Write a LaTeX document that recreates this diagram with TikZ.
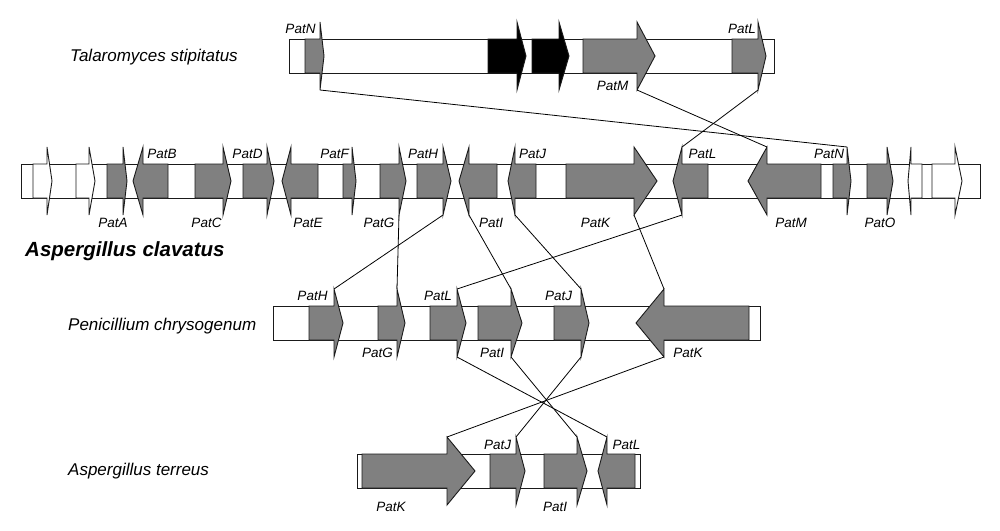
\documentclass[tikz,border=0pt]{standalone}
\usepackage{fontspec}
\setmainfont{Liberation Sans}
\definecolor{genegray}{HTML}{808080}
\definecolor{edge}{HTML}{1A1A1A}
\tikzset{
  gene/.style={draw=edge, line width=0.9pt, line join=miter},
  barbox/.style={draw=edge, line width=0.9pt, fill=white},
  link/.style={draw=black, line width=0.8pt},
  lab/.style={anchor=base, inner sep=0pt, font=\fontsize{13.5}{15}\selectfont\itshape},
  species/.style={anchor=base west, inner sep=0pt, font=\fontsize{17}{19}\selectfont\itshape},
  speciesbold/.style={anchor=base west, inner sep=0pt, font=\fontsize{20.5}{23}\selectfont\bfseries\itshape}
}
% right-pointing gene: name, body start, head base, tip, centre y, fill
\newcommand\geneR[6]{%
  \filldraw[gene,fill=#6] (#2,#5-17) -- (#3,#5-17) -- (#3,#5-34) -- (#4,#5) -- (#3,#5+34) -- (#3,#5+17) -- (#2,#5+17) -- cycle;
  \coordinate (#1t) at (#3,#5-34);
  \coordinate (#1b) at (#3,#5+34);}
% left-pointing gene: name, tip, head base, body end, centre y, fill
\newcommand\geneL[6]{%
  \filldraw[gene,fill=#6] (#4,#5-17) -- (#3,#5-17) -- (#3,#5-34) -- (#2,#5) -- (#3,#5+34) -- (#3,#5+17) -- (#4,#5+17) -- cycle;
  \coordinate (#1t) at (#3,#5-34);
  \coordinate (#1b) at (#3,#5+34);}
\begin{document}
\begin{tikzpicture}[x=1pt,y=-1pt]
\useasboundingbox (0,0) rectangle (1000,530);

% ---------- Talaromyces stipitatus ----------
\node[species] (spT) at (70,61) {Talaromyces stipitatus};
\draw[barbox] (289,39) rectangle (774,73);
\geneR{TN}{305}{320}{324}{56}{genegray}
\geneR{TX1}{488}{517}{526}{56}{black}
\geneR{TX2}{532}{559}{569}{56}{black}
\geneR{TM}{583}{637}{655}{56}{genegray}
\geneR{TL}{732}{758}{766}{56}{genegray}
\node[lab] (lTN) at (300.5,33) {PatN};
\node[lab] (lTL) at (742,33) {PatL};
\node[lab] (lTM) at (612.5,90) {PatM};

% ---------- Aspergillus clavatus ----------
\node[speciesbold] (spC) at (25,256) {Aspergillus clavatus};
\draw[barbox] (21,164) rectangle (980,198);
\geneR{CW1}{33}{47}{52}{181}{white}
\geneR{CW2}{76}{89}{95}{181}{white}
\geneR{CA}{107}{123}{127}{181}{genegray}
\geneL{CB}{133}{143}{168}{181}{genegray}
\geneR{CC}{195}{223}{231}{181}{genegray}
\geneR{CD}{243}{267}{274}{181}{genegray}
\geneL{CE}{282}{291}{318}{181}{genegray}
\geneR{CF}{343}{352}{356}{181}{genegray}
\geneR{CG}{380}{399}{406}{181}{genegray}
\geneR{CH}{417}{443}{451}{181}{genegray}
\geneL{CI}{459}{469}{497}{181}{genegray}
\geneL{CJ}{508}{515}{536}{181}{genegray}
\geneR{CK}{566}{634}{657}{181}{genegray}
\geneL{CL}{673}{682}{708}{181}{genegray}
\geneL{CM}{748}{767}{821}{181}{genegray}
\geneR{CN}{833}{847}{851}{181}{genegray}
\geneR{CO}{867}{887}{893}{181}{genegray}
\geneL{CW3}{908}{911}{922}{181}{white}
\geneR{CW4}{932}{955}{962}{181}{white}
\node[lab] (lCB) at (162,158) {PatB};
\node[lab] (lCD) at (247.5,158) {PatD};
\node[lab] (lCF) at (334.5,158) {PatF};
\node[lab] (lCH) at (423,158) {PatH};
\node[lab] (lCJ) at (532.5,158) {PatJ};
\node[lab] (lCL) at (702.5,158) {PatL};
\node[lab] (lCN) at (829,158) {PatN};
\node[lab] (lCA) at (113,227) {PatA};
\node[lab] (lCC) at (206.5,227) {PatC};
\node[lab] (lCE) at (308,227) {PatE};
\node[lab] (lCG) at (379,227) {PatG};
\node[lab] (lCI) at (491,227) {PatI};
\node[lab] (lCK) at (595.5,227) {PatK};
\node[lab] (lCM) at (791,227) {PatM};
\node[lab] (lCO) at (880,227) {PatO};

% ---------- Penicillium chrysogenum ----------
\node[species] (spP) at (68,330) {Penicillium chrysogenum};
\draw[barbox] (273,306) rectangle (760,340);
\geneR{PH}{309}{334}{343}{323}{genegray}
\geneR{PG}{378}{397}{405}{323}{genegray}
\geneR{PL}{430}{457}{466}{323}{genegray}
\geneR{PI}{478}{511}{522}{323}{genegray}
\geneR{PJ}{554}{581}{589}{323}{genegray}
\geneL{PK}{636}{664}{749}{323}{genegray}
\node[lab] (lPH) at (312.5,300) {PatH};
\node[lab] (lPL) at (438,300) {PatL};
\node[lab] (lPJ) at (558.5,300) {PatJ};
\node[lab] (lPG) at (377.5,357) {PatG};
\node[lab] (lPI) at (492,357) {PatI};
\node[lab] (lPK) at (688,357) {PatK};

% ---------- Aspergillus terreus ----------
\node[species] (spE) at (68,475) {Aspergillus terreus};
\draw[barbox] (357,454) rectangle (640,488);
\geneR{EK}{362}{447}{475}{471}{genegray}
\geneR{EJ}{490}{516}{525}{471}{genegray}
\geneR{EI}{544}{577}{587}{471}{genegray}
\geneL{EL}{598}{607}{635}{471}{genegray}
\node[lab] (lEJ) at (497.5,449) {PatJ};
\node[lab] (lEL) at (626.5,449) {PatL};
\node[lab] (lEK) at (391,511) {PatK};
\node[lab] (lEI) at (555,511) {PatI};

% ---------- connectors ----------
\draw[link] (TNb) -- (CNt);
\draw[link] (TMb) -- (CMt);
\draw[link] (TLb) -- (CLt);
\draw[link] (CHb) -- (PHt);
\draw[link] (CGb) -- (PGt);
\draw[link] (CIb) -- (PIt);
\draw[link] (CJb) -- (PJt);
\draw[link] (CKb) -- (PKt);
\draw[link] (CLb) -- (PLt);
\draw[link] (PLb) -- (ELt);
\draw[link] (PIb) -- (EIt);
\draw[link] (PJb) -- (EJt);
\draw[link] (PKb) -- (EKt);
\end{tikzpicture}
\end{document}
